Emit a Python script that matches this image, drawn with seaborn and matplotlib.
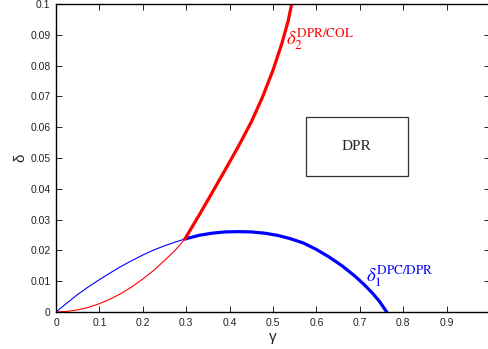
import matplotlib
matplotlib.use('Agg')
import matplotlib.pyplot as plt
from matplotlib.patches import Rectangle
import seaborn as sns

# delta_1^{DPC/DPR} (blue), thin part below gamma=0.3, thick part above
gamma_b_thin = [0.0, 0.025, 0.05, 0.075, 0.1, 0.125, 0.15, 0.175, 0.2, 0.225, 0.25, 0.275, 0.297]
delta_b_thin = [0.0, 0.0029, 0.0057, 0.0082, 0.0105, 0.0127, 0.0148, 0.0167, 0.0185, 0.0201,
                0.0215, 0.0227, 0.0237]
gamma_b_thick = [0.297, 0.33, 0.36, 0.39, 0.42, 0.45, 0.48, 0.51, 0.54, 0.57,
                 0.6, 0.63, 0.66, 0.69, 0.71, 0.73, 0.745, 0.762]
delta_b_thick = [0.0237, 0.0249, 0.0256, 0.026, 0.0261, 0.026, 0.0256, 0.0249, 0.0238, 0.0224,
                 0.0203, 0.0178, 0.0149, 0.0115, 0.0089, 0.006, 0.0035, 0.0]

# delta_2^{DPR/COL} (red)
gamma_r_thin = [0.0, 0.025, 0.05, 0.075, 0.1, 0.125, 0.15, 0.175, 0.2, 0.225, 0.25, 0.275, 0.297]
delta_r_thin = [0.0, 0.0002, 0.0007, 0.0015, 0.0027, 0.0042, 0.006, 0.0082, 0.0107, 0.0135,
                0.0167, 0.0201, 0.0237]
gamma_r_thick = [0.297, 0.33, 0.36, 0.39, 0.42, 0.45, 0.475, 0.5, 0.52, 0.535, 0.543, 0.546]
delta_r_thick = [0.0237, 0.0315, 0.0388, 0.0462, 0.0537, 0.0617, 0.0695, 0.0785, 0.087,
                 0.0945, 0.1, 0.102]

xticks = [0, 0.1, 0.2, 0.3, 0.4, 0.5, 0.6, 0.7, 0.8, 0.9, 1.0]
xtick_labels = ['0', '0.1', '0.2', '0.3', '0.4', '0.5', '0.6', '0.7', '0.8', '0.9', '']
yticks = [0, 0.01, 0.02, 0.03, 0.04, 0.05, 0.06, 0.07, 0.08, 0.09, 0.1]
ytick_labels = ['0', '0.01', '0.02', '0.03', '0.04', '0.05', '0.06', '0.07', '0.08', '0.09', '0.1']

sns.set_style('ticks')
plt.rcParams['font.family'] = ['Liberation Sans', 'DejaVu Sans']
plt.rcParams['mathtext.fontset'] = 'stix'

fig = plt.figure(figsize=(4.88, 3.49), dpi=100)
ax = fig.add_axes([56 / 488, 1 - 312 / 349, 434 / 488, 308 / 349])

sns.lineplot(x=gamma_b_thin, y=delta_b_thin, color='blue', linewidth=0.8, estimator=None, ax=ax)
sns.lineplot(x=gamma_r_thin, y=delta_r_thin, color='red', linewidth=0.8, estimator=None, ax=ax)
sns.lineplot(x=gamma_b_thick, y=delta_b_thick, color='blue', linewidth=2.3, estimator=None, ax=ax)
sns.lineplot(x=gamma_r_thick, y=delta_r_thick, color='red', linewidth=2.3, estimator=None, ax=ax)

ax.set_xlim(0, 1)
ax.set_ylim(0, 0.1)
ax.set_xticks(xticks)
ax.set_xticklabels(xtick_labels)
ax.set_yticks(yticks)
ax.set_yticklabels(ytick_labels)
ax.tick_params(direction='in', top=True, right=True, length=4, width=0.7,
               labelsize=7.5, pad=4, colors='#222222')
for sp in ax.spines.values():
    sp.set_linewidth(1.0)
    sp.set_color('black')

ax.set_xlabel('γ', fontsize=11, labelpad=2)
ax.set_ylabel('δ', fontsize=11, labelpad=2)

# region box
ax.add_patch(Rectangle((0.5755, 0.0442), 0.2345, 0.0191, fill=False,
                       edgecolor='#333333', linewidth=0.9))
ax.text(0.693, 0.0538, 'DPR', ha='center', va='center', fontsize=11,
        family='Liberation Serif')

ax.text(0.531, 0.0885, r'$\delta_{2}^{\mathrm{DPR/COL}}$', color='red',
        fontsize=13.5, ha='left', va='center')
ax.text(0.715, 0.0115, r'$\delta_{1}^{\mathrm{DPC/DPR}}$', color='blue',
        fontsize=13.5, ha='left', va='center')

fig.savefig('out.png', dpi=100)
